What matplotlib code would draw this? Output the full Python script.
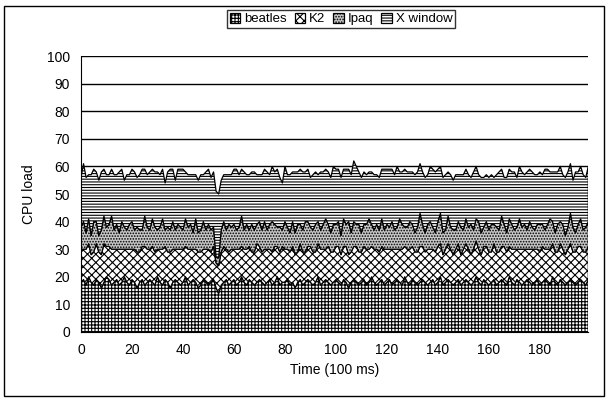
import numpy as np
import matplotlib.pyplot as plt
from matplotlib.patches import Rectangle

plt.rcParams['font.family'] = ['Liberation Sans', 'DejaVu Sans']
plt.rcParams['hatch.linewidth'] = 0.8

labels = ['beatles', 'K2', 'Ipaq', 'X window']

beatles = [18, 19, 17, 20, 18, 17, 19, 18, 16, 18, 20, 19, 17, 18, 19, 17, 18, 20, 18, 17,
           19, 18, 16, 18, 19, 17, 18, 19, 18, 17, 20, 18, 17, 19, 18, 16, 18, 19, 18, 17,
           18, 20, 17, 18, 19, 18, 16, 17, 19, 18, 17, 18, 19, 16, 14, 17, 18, 19, 17, 18,
           19, 17, 18, 20, 18, 17, 19, 18, 17, 18, 19, 18, 17, 18, 19, 17, 18, 20, 17, 18,
           18, 19, 17, 18, 16, 18, 19, 17, 18, 19, 18, 17, 18, 20, 17, 18, 19, 18, 17, 18,
           19, 18, 17, 19, 18, 16, 18, 19, 18, 17, 18, 19, 17, 18, 20, 18, 17, 18, 19, 17,
           18, 19, 17, 18, 19, 18, 17, 20, 18, 17, 19, 18, 17, 18, 19, 18, 17, 18, 19, 17,
           18, 20, 17, 18, 19, 18, 17, 18, 19, 17, 18, 19, 18, 17, 18, 20, 18, 17, 19, 18,
           17, 18, 19, 17, 18, 19, 18, 17, 20, 18, 17, 19, 18, 17, 18, 19, 18, 17, 18, 19,
           17, 18, 19, 18, 17, 20, 18, 17, 19, 18, 17, 18, 19, 18, 17, 18, 19, 18, 17, 19]

k2 = [12, 11, 13, 12, 10, 12, 13, 11, 12, 14, 11, 12, 13, 12, 11, 13, 12, 10, 12, 13,
      11, 12, 13, 11, 12, 14, 12, 11, 13, 12, 10, 12, 13, 12, 11, 13, 12, 11, 12, 13,
      12, 11, 13, 12, 11, 12, 13, 12, 11, 12, 13, 11, 12, 9, 10, 12, 13, 11, 12, 12,
      11, 13, 12, 11, 12, 13, 12, 11, 12, 14, 12, 11, 13, 12, 11, 12, 13, 11, 12, 13,
      12, 11, 12, 13, 12, 11, 13, 12, 11, 12, 13, 12, 11, 12, 13, 12, 11, 13, 12, 11,
      12, 13, 11, 12, 13, 12, 11, 12, 13, 12, 11, 12, 13, 12, 11, 12, 13, 11, 12, 13,
      12, 11, 13, 12, 11, 12, 13, 11, 12, 13, 12, 11, 12, 13, 12, 11, 13, 12, 11, 12,
      13, 12, 11, 12, 13, 12, 11, 12, 13, 11, 12, 13, 12, 11, 12, 13, 12, 11, 12, 13,
      12, 11, 13, 12, 11, 12, 13, 12, 11, 12, 13, 11, 12, 13, 12, 11, 12, 13, 12, 11,
      12, 13, 11, 12, 13, 12, 11, 12, 13, 12, 11, 12, 13, 11, 12, 13, 12, 11, 12, 12]

ipaq = [8, 10, 6, 9, 7, 11, 8, 6, 9, 10, 7, 8, 12, 7, 9, 6, 10, 8, 7, 9,
        10, 7, 9, 8, 6, 11, 8, 7, 10, 9, 7, 8, 11, 6, 9, 8, 10, 7, 9, 8,
        7, 10, 8, 9, 6, 11, 7, 8, 10, 7, 9, 8, 7, 2, 3, 8, 9, 7, 10, 8,
        9, 7, 8, 11, 7, 9, 6, 10, 8, 7, 9, 8, 10, 7, 9, 11, 8, 7, 9, 6,
        10, 8, 7, 9, 8, 10, 7, 8, 11, 9, 7, 8, 10, 8, 7, 9, 11, 8, 7, 10,
        8, 9, 7, 10, 8, 12, 7, 9, 8, 10, 7, 8, 9, 11, 8, 7, 9, 8, 10, 7,
        9, 8, 10, 7, 8, 11, 9, 7, 8, 10, 8, 7, 9, 12, 8, 7, 9, 10, 8, 7,
        9, 11, 8, 7, 10, 8, 9, 7, 8, 10, 7, 9, 8, 11, 7, 8, 10, 8, 7, 9,
        8, 10, 7, 9, 8, 11, 8, 7, 10, 9, 7, 8, 11, 8, 9, 7, 10, 8, 7, 9,
        10, 8, 7, 9, 11, 8, 7, 10, 8, 9, 7, 8, 11, 9, 7, 8, 10, 8, 9, 9]

xwindow = [18, 21, 20, 16, 22, 19, 18, 20, 21, 17, 19, 18, 17, 20, 18, 22, 19, 17, 20, 18,
           19, 21, 18, 20, 22, 17, 19, 21, 18, 20, 21, 19, 18, 17, 20, 22, 19, 18, 20, 21,
           22, 17, 19, 18, 21, 16, 19, 20, 17, 21, 20, 19, 20, 24, 23, 18, 17, 20, 18, 19,
           20, 22, 19, 17, 21, 18, 20, 19, 21, 18, 17, 20, 19, 21, 18, 20, 19, 21, 18, 17,
           20, 19, 21, 18, 22, 19, 20, 21, 18, 19, 18, 20, 19, 17, 21, 19, 18, 19, 20, 21,
           20, 19, 21, 18, 20, 19, 21, 22, 21, 19, 20, 19, 18, 17, 19, 20, 18, 19, 18, 22,
           20, 21, 19, 20, 22, 17, 19, 21, 20, 18, 19, 21, 20, 18, 19, 20, 18, 20, 21, 22,
           19, 17, 20, 20, 16, 19, 18, 20, 17, 19, 20, 18, 19, 17, 21, 19, 17, 20, 18, 17,
           19, 18, 17, 19, 21, 17, 17, 20, 18, 19, 21, 18, 19, 20, 18, 21, 19, 20, 20, 18,
           19, 18, 22, 20, 17, 18, 22, 19, 20, 18, 21, 20, 18, 17, 22, 19, 19, 20, 18, 20]

t = np.arange(len(beatles))
hatches = ['+++++', 'xxxx', '......', '------']
fills = ['white', 'white', '#c8c8c8', 'white']

fig = plt.figure(figsize=(6.09, 3.98), dpi=100)
ax = fig.add_axes([0.133, 0.166, 0.833, 0.693])

polys = ax.stackplot(t, beatles, k2, ipaq, xwindow, labels=labels,
                     colors=fills, edgecolor='black', linewidth=0.9)
for p, h in zip(polys, hatches):
    p.set_hatch(h)

for yv in range(10, 101, 10):
    ax.axhline(yv, color='black', linewidth=1.0, zorder=0)

ax.set_xlim(0, 199)
ax.set_ylim(0, 100)
ax.set_xticks(range(0, 181, 20))
ax.set_yticks(range(0, 101, 10))
ax.tick_params(labelsize=10, length=0, pad=8)
ax.spines['top'].set_visible(False)
ax.spines['right'].set_visible(False)
ax.set_xlabel('Time (100 ms)', fontsize=10)
ax.set_ylabel('CPU load', fontsize=10, labelpad=8)

fig.legend(loc='upper center', bbox_to_anchor=(0.56, 0.975), ncol=4,
           fontsize=9.5, frameon=True, fancybox=False, edgecolor='black',
           handlelength=0.8, handleheight=0.8, handletextpad=0.3,
           columnspacing=0.6, borderpad=0.2, borderaxespad=0)

fig.patches.append(Rectangle((0.006, 0.006), 0.985, 0.98, transform=fig.transFigure,
                             fill=False, edgecolor='black', linewidth=1.0))

plt.savefig('out.png', dpi=100)
